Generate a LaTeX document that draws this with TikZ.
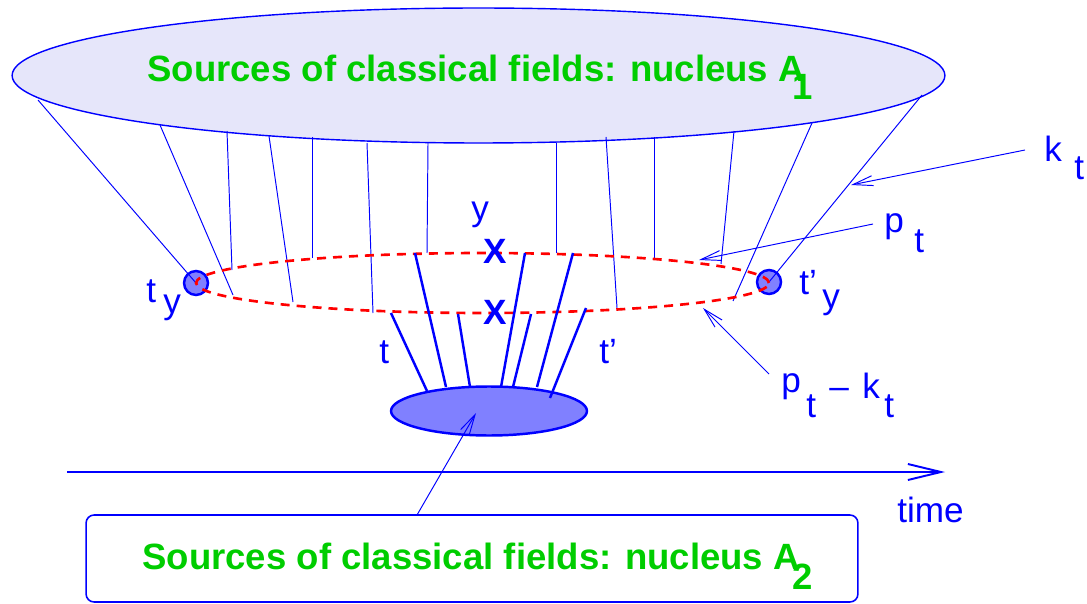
\documentclass[tikz,border=0pt]{standalone}
\usepackage{fontspec}
\setmainfont{Liberation Sans}
\usetikzlibrary{arrows.meta,shapes.geometric}
\definecolor{fblue}{RGB}{0,0,255}
\definecolor{fgreen}{RGB}{0,205,0}
\definecolor{lav}{RGB}{230,230,250}
\definecolor{mblue}{RGB}{128,128,255}
\definecolor{fred}{RGB}{255,0,0}
\begin{document}
\begin{tikzpicture}[x=0.02cm,y=-0.02cm,
  thinl/.style={draw=fblue, line width=0.55pt},
  thickl/.style={draw=fblue, line width=1.4pt},
  lbl/.style={text=fblue, font=\fontsize{20}{24}\selectfont, inner sep=0pt, anchor=base west},
  ttl/.style={text=fgreen, font=\fontsize{20.8}{24}\selectfont\bfseries, inner sep=0pt, anchor=base west},
  xmark/.style={text=fblue, font=\fontsize{20}{24}\selectfont\bfseries, inner sep=0pt},
  barb/.style={thinl, -{Straight Barb[length=0.4cm,width=0.2cm]}},
  redloop/.style={draw=fred, line width=1.5pt, dash pattern=on 0.18cm off 0.14cm},
  src/.style={ellipse, draw=fblue, inner sep=0pt},
  vert/.style={circle, draw=fblue, fill=mblue, line width=1.4pt, minimum size=0.48cm, inner sep=0pt},
]
\useasboundingbox (0,0) rectangle (1087,604);

% top source
\node[src, fill=lav, line width=0.8pt, minimum width=18.66cm, minimum height=2.7cm] (A1) at (478.5,75.5) {};
\node[ttl] (T1) at (147,82) {Sources of classical fields: nucleus A};
\node[ttl] (S1) at (792,100) {1};

% vertices
\node[vert] (L) at (196,283) {};
\node[vert] (R) at (769,282) {};

% thin lines from the top source
\foreach \a/\b/\c/\d [count=\i] in {38/100/196/283, 160/125/233/295, 227/131/232/270, 269/136/293/302,
  312/137/312/258, 367/143/373/313, 428/143/427/253, 556/143/556/253, 606/137/617/308,
  654/137/654/259, 734/131/721/264, 812/123/733/301, 922/95/769/282}{
  \coordinate (u\i) at (\a,\b);
  \coordinate (v\i) at (\c,\d);
  \draw[thinl] (u\i) -- (v\i);
}

% red dashed loop
\coordinate (loopc) at (482.5,283);
\draw[redloop] (loopc) ellipse [x radius=5.73cm, y radius=0.6cm];

% bottom source
\node[src, fill=mblue, line width=1.4pt, minimum width=3.92cm, minimum height=0.98cm] (A2) at (489,411) {};

% thick lines to the bottom source
\foreach \a/\b/\c/\d [count=\i] in {391/313/427/391, 415/253/446/387, 458/314/470/387,
  525/253/501/387, 531/314/513/387, 573/253/537/387, 586/308/550/398}{
  \coordinate (p\i) at (\a,\b);
  \coordinate (q\i) at (\c,\d);
  \draw[thickl] (p\i) -- (q\i);
}

% X marks and labels
\node[xmark] (X1) at (495,251) {X};
\node[xmark] (X2) at (495,312) {X};
\node[lbl] (ly) at (471,221) {y};
\node[lbl] (lt1) at (146,302) {t};
\node[lbl] (lt2) at (163,313) {y};
\node[lbl] (rt1) at (799,295) {t’};
\node[lbl] (rt2) at (822,308) {y};
\node[lbl] (bt) at (379,363) {t};
\node[lbl] (bt2) at (599,363) {t’};

\node[lbl] (k) at (1044,162) {k};
\node[lbl] (kt) at (1074,180) {t};
\node[lbl] (p) at (884,233) {p};
\node[lbl] (pt) at (914,253) {t};
\node[lbl] (pk1) at (781,392) {p};
\node[lbl] (pk2) at (806,417) {t};
\node[lbl] (pk3) at (829,398) {–};
\node[lbl] (pk4) at (862,398) {k};
\node[lbl] (pk5) at (884,417) {t};
\node[lbl] (time) at (897,522) {time};

% pointer arrows
\coordinate (ka) at (1025,150); \coordinate (kb) at (851,185);
\coordinate (pa) at (873,224);  \coordinate (pb) at (699,260);
\coordinate (ma) at (769,374);  \coordinate (mb) at (703,308);
\draw[barb] (ka) -- (kb);
\draw[barb] (pa) -- (pb);
\draw[barb] (ma) -- (mb);

% time axis
\coordinate (t0) at (67,472); \coordinate (t1) at (945,472);
\draw[draw=fblue, line width=1.1pt, -{Straight Barb[length=0.66cm,width=0.32cm]}] (t0) -- (t1);

% bottom box
\node[draw=fblue, line width=0.9pt, rounded corners=0.16cm, minimum width=15.44cm, minimum height=1.74cm, inner sep=0pt] (box) at (472,558.5) {};
\node[ttl] (T2) at (142,569) {Sources of classical fields: nucleus A};
\node[ttl] (S2) at (792,589) {2};
\coordinate (ba) at (417,515); \coordinate (bb) at (476,413);
\draw[barb] (ba) -- (bb);
\end{tikzpicture}
\end{document}
